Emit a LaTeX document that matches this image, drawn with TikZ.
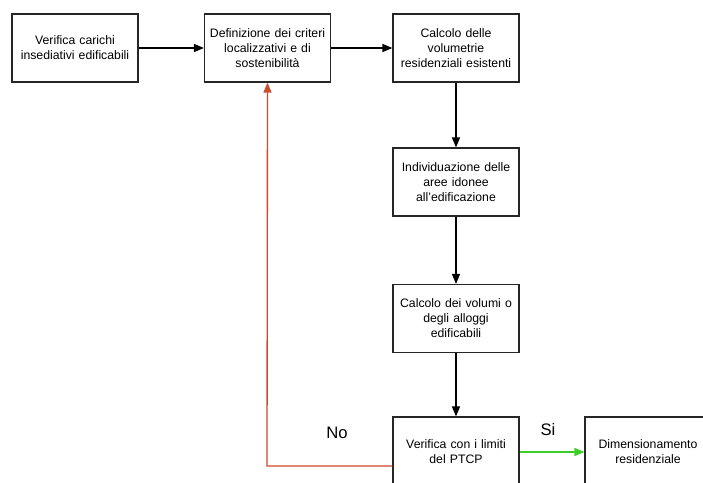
\documentclass[tikz,border=0pt]{standalone}
\usepackage{fontspec}
\setmainfont{Liberation Sans}
\usetikzlibrary{arrows.meta}
\definecolor{redline}{RGB}{205,75,45}
\definecolor{greenline}{RGB}{60,205,40}
\begin{document}
\begin{tikzpicture}[x=0.75pt,y=-0.75pt,
  box/.style={draw=black!85,line width=0.9pt,minimum width=126*0.75pt,minimum height=68*0.75pt,
    align=center,text width=126*0.75pt,font=\fontsize{9.2}{11.2}\selectfont,inner sep=0pt},
  arr/.style={line width=1pt,-{Triangle[length=7.5pt,width=6pt]}},
  lbl/.style={font=\fontsize{12.5}{14}\selectfont}]
\useasboundingbox (0,0) rectangle (703,482);
\clip (0,0) rectangle (703,482);
\fill[white] (0,0) rectangle (703,482);
\node[box] (b1) at (75,48) {Verifica carichi\\insediativi edificabili};
\node[box] (b2) at (267.5,48) {Definizione dei criteri\\localizzativi e di\\sostenibilità};
\node[box] (b3) at (456,48) {Calcolo delle\\volumetrie\\residenziali esistenti};
\node[box] (b4) at (456,182) {Individuazione delle\\aree idonee\\all'edificazione};
\node[box] (b5) at (456,318.5) {Calcolo dei volumi o\\degli alloggi\\edificabili};
\node[box,minimum height=70*0.75pt] (b6) at (456,452) {Verifica con i limiti\\del PTCP};
\node[box,minimum height=70*0.75pt] (b7) at (648,452) {Dimensionamento\\residenziale};
\draw[arr] (b1) -- (b2);
\draw[arr] (b2) -- (b3);
\draw[arr] (b3) -- (b4);
\draw[arr] (b4) -- (b5);
\draw[arr] (b5) -- (b6);
\draw[arr,draw=greenline] (b6) -- (b7);
\coordinate (c1) at (267,466);
\draw[arr,draw=redline] (b6.west |- c1) -- (c1) -- (b2.south);
\node[lbl] (no) at (337,433) {No};
\node[lbl] (si) at (548,430) {Si};
\end{tikzpicture}
\end{document}
